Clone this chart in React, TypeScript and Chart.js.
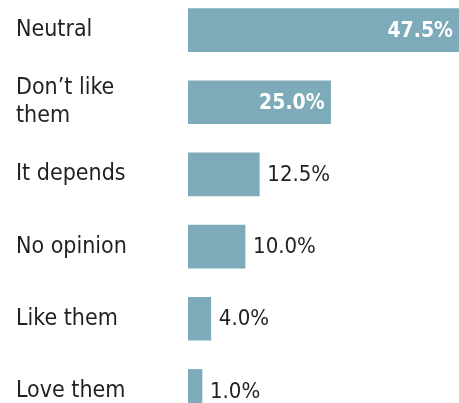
import React, { useEffect, useRef } from "react";
import { Chart, registerables } from "chart.js";

Chart.register(...registerables);

const categories: (string | string[])[] = [
  "Neutral",
  ["Don\u2019t like", "them"],
  "It depends",
  "No opinion",
  "Like them",
  "Love them",
];
const values: number[] = [47.5, 25.0, 12.5, 10.0, 4.0, 1.0];
const valueLabels: string[] = ["47.5%", "25.0%", "12.5%", "10.0%", "4.0%", "1.0%"];

const BAR_COLOR = "#7eabb9";
const TEXT_COLOR = "#231f20";
const FONT = "'DejaVu Sans Condensed', 'DejaVu Sans', sans-serif";

const valueLabelPlugin = {
  id: "valueLabels",
  afterDatasetsDraw(chart: any) {
    const ctx = chart.ctx;
    const meta = chart.getDatasetMeta(0);
    ctx.save();
    ctx.textBaseline = "middle";
    meta.data.forEach((bar: any, i: number) => {
      const v = values[i];
      const text = valueLabels[i];
      if (v >= 20) {
        ctx.font = `bold 21px ${FONT}`;
        ctx.fillStyle = "#ffffff";
        ctx.textAlign = "right";
        ctx.fillText(text, bar.x - 6, bar.y + 1);
      } else {
        ctx.font = `22px ${FONT}`;
        ctx.fillStyle = TEXT_COLOR;
        ctx.textAlign = "left";
        ctx.fillText(text, bar.x + 8, bar.y + 1);
      }
    });
    ctx.restore();
  },
};

export default function App() {
  const ref = useRef<HTMLCanvasElement | null>(null);
  useEffect(() => {
    if (!ref.current) return;
    const chart = new Chart(ref.current, {
      type: "bar",
      data: {
        labels: categories,
        datasets: [
          {
            data: values,
            backgroundColor: BAR_COLOR,
            borderWidth: 0,
            barThickness: 43,
            minBarLength: 14,
          },
        ],
      },
      options: {
        indexAxis: "y",
        responsive: false,
        animation: false,
        events: [],
        layout: { padding: { left: 16, right: 0, top: 0, bottom: 0 } },
        plugins: {
          legend: { display: false },
          tooltip: { enabled: false },
        },
        scales: {
          x: {
            display: false,
            min: 0,
            max: 47.5,
            grid: { display: false },
          },
          y: {
            afterFit: (scale: any) => {
              scale.width = 172;
              scale.paddingTop = 0;
              scale.paddingBottom = 0;
            },
            border: { display: false },
            grid: { display: false, drawTicks: false },
            ticks: {
              crossAlign: "far",
              color: TEXT_COLOR,
              padding: 0,
              font: { family: FONT, size: 23, lineHeight: 1.22 },
            },
          },
        },
      },
      plugins: [valueLabelPlugin],
    });
    return () => chart.destroy();
  }, []);
  return (
    <div style={{ position: "fixed", left: 0, top: -6, width: 459, height: 433, background: "#fff" }}>
      <canvas ref={ref} width={459} height={433} style={{ display: "block", width: 459, height: 433 }} />
    </div>
  );
}
